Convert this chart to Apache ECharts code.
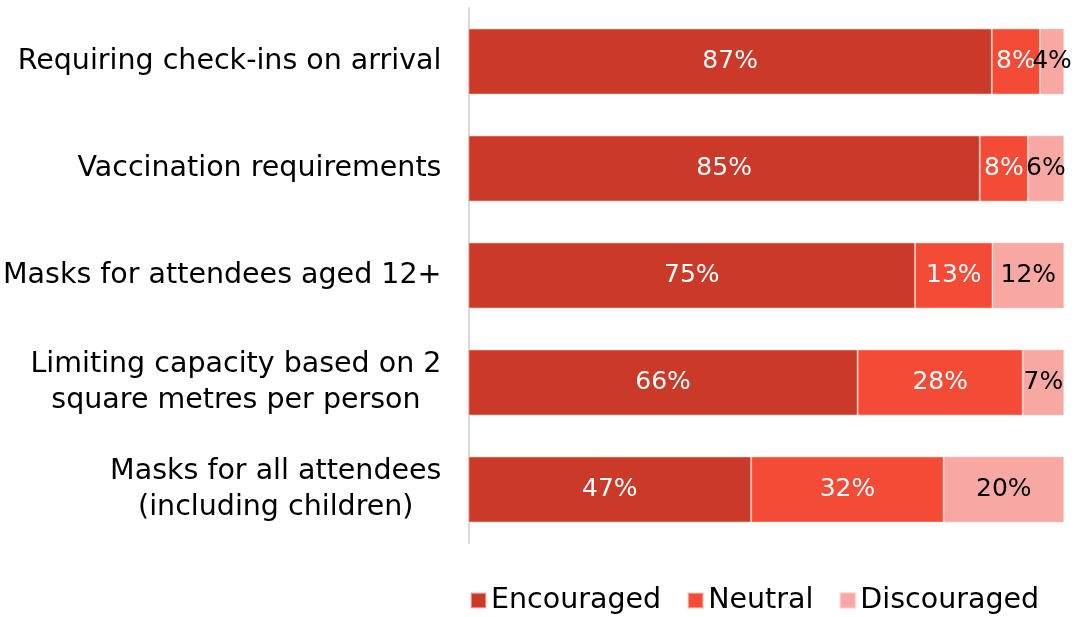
<!DOCTYPE html>
<html>
<head>
<meta charset="utf-8">
<script src="https://cdn.jsdelivr.net/npm/echarts@6/dist/echarts.min.js"></script>
<style>html,body{margin:0;padding:0;background:#fff}#c{width:1081px;height:617px}</style>
</head>
<body>
<div id="c"></div>
<script>
const categories = [
  "Requiring check-ins on arrival",
  "Vaccination requirements",
  "Masks for attendees aged 12+",
  "Limiting capacity based on 2\nsquare metres per person",
  "Masks for all attendees\n(including children)"
];
const seriesNames = ["Encouraged", "Neutral", "Discouraged"];
const encouraged = [87, 85, 75, 66, 47];
const neutral = [8, 8, 13, 28, 32];
const discouraged = [4, 6, 12, 7, 20];

const FONT = "DejaVu Sans";
const raw = [encouraged, neutral, discouraged];
const totals = categories.map((_, i) => encouraged[i] + neutral[i] + discouraged[i]);
const colors = ["#CB3A29", "#F44B36", "#F7A8A3"];
const labelColors = ["#ffffff", "#ffffff", "#000000"];

const chart = echarts.init(document.getElementById('c'), null, {renderer: 'canvas'});
chart.setOption({
  animation: false,
  textStyle: {fontFamily: FONT},
  grid: {left: 468, right: 17, top: 8, bottom: 74, containLabel: false},
  xAxis: {type: 'value', min: 0, max: 100, show: false},
  yAxis: {
    type: 'category', data: categories, inverse: true,
    axisLine: {show: true, lineStyle: {color: '#d9d9d9', width: 2}},
    axisTick: {show: false},
    splitLine: {show: false},
    axisLabel: {
      margin: 27, color: '#000', fontSize: 28.5, fontFamily: FONT, align: 'right',
      lineHeight: 36,
      formatter: v => v.split('\n').map(s => '{c|' + s + '}').join('\n'),
      rich: {c: {align: 'center', fontSize: 28.5, fontFamily: FONT, color: '#000', lineHeight: 36}}
    }
  },
  legend: {
    left: 470, top: 586, padding: 0, itemWidth: 15, itemHeight: 15, itemGap: 26,
    icon: 'rect',
    textStyle: {fontSize: 28.5, color: '#000', fontFamily: FONT},
    data: seriesNames
  },
  series: seriesNames.map((name, k) => ({
    name, type: 'bar', stack: 'total', barWidth: 66,
    itemStyle: {color: colors[k], borderColor: 'rgba(255,200,195,0.55)', borderWidth: 1},
    label: {
      show: true, position: 'inside', color: labelColors[k], fontSize: 25, fontFamily: FONT,
      formatter: p => raw[k][p.dataIndex] + '%'
    },
    data: raw[k].map((v, i) => v / totals[i] * 100)
  }))
});
</script>
</body>
</html>
